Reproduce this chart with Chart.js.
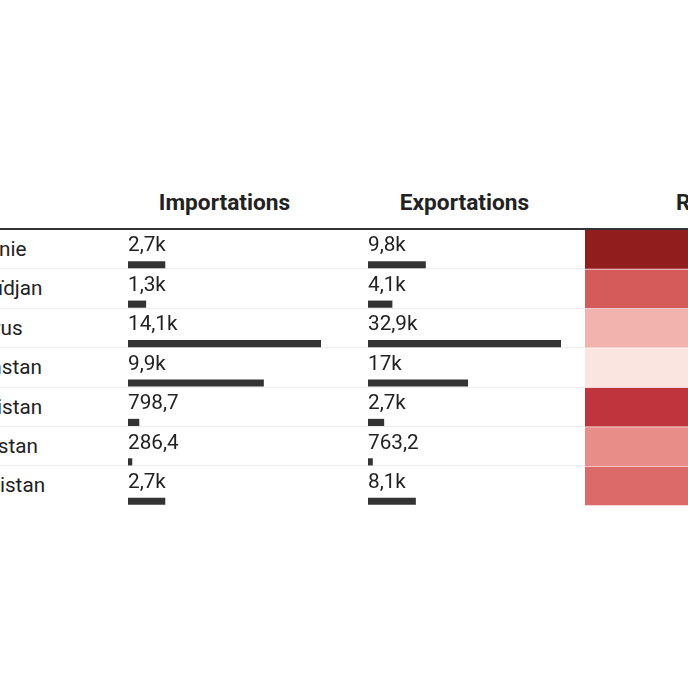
<!DOCTYPE html>
<html lang="fr">
<head>
<meta charset="utf-8">
<title>Importations / Exportations</title>
<script src="https://cdn.jsdelivr.net/npm/chart.js@4.4.1/dist/chart.umd.min.js"></script>
<style>
    html, body {
        margin: 0;
        padding: 0;
        width: 688px;
        height: 688px;
        overflow: hidden;
        background: #fff;
        font-family: Roboto, 'Noto Sans', sans-serif;
        color: #222;
    }
    #tableau {
        position: absolute;
        left: 0;
        top: 0;
        width: 688px;
        height: 688px;
    }
    .entete {
        position: absolute;
        top: 190px;
        height: 26px;
        line-height: 26px;
        font-size: 22.7px;
        font-weight: 700;
        text-align: center;
        white-space: nowrap;
    }
    .pays {
        position: absolute;
        width: 200px;
        font-size: 20.7px;
        text-align: center;
        white-space: nowrap;
    }
    .ligne {
        position: absolute;
        left: 0;
        width: 688px;
        height: 1px;
        background: #ededed;
    }
    #filet {
        position: absolute;
        left: 0;
        top: 228px;
        width: 688px;
        height: 2px;
        background: #333;
        z-index: 2;
    }
    canvas {
        position: absolute;
        z-index: 1;
    }
</style>
</head>
<body>
<div id="tableau">
    <div id="filet"></div>
    <canvas id="chartImport" width="193" height="291" style="left:128px; top:230px;"></canvas>
    <canvas id="chartExport" width="193" height="291" style="left:368px; top:230px;"></canvas>
    <canvas id="chartRatio" width="235" height="276" style="left:585px; top:230px;"></canvas>
</div>
<script>
// donnees
const pays = ['Arménie', 'Azerbaïdjan', 'Bélarus', 'Kazakhstan', 'Kirghizistan', 'Tadjikistan', 'Ouzbékistan'];
const importations = [2700, 1300, 14100, 9900, 798.7, 286.4, 2700];
const exportations = [9800, 4100, 32900, 17000, 2700, 763.2, 8100];
const ratio = [3.63, 3.15, 2.33, 1.72, 3.38, 2.66, 3.0];
const entetes = ['Importations', 'Exportations', 'Ratio'];

const hautLigne = 39.4;
const debutLignes = 230;
const centrePays = -12;

// palette du ratio (position 0..1, couleur), clair -> fonce
const rouges = [
    [0, '#fbe5e1'],
    [0.3, '#f3b7b2'],
    [0.5, '#e88b85'],
    [0.75, '#d55a5a'],
    [0.87, '#c0353d'],
    [1, '#921d1d']
];

function formater(v) {
    if (v >= 1000) {
        return (Math.round(v / 100) / 10).toString().replace('.', ',') + 'k';
    }
    return v.toFixed(1).replace('.', ',');
}

function hexRgb(h) {
    return [parseInt(h.substr(1, 2), 16), parseInt(h.substr(3, 2), 16), parseInt(h.substr(5, 2), 16)];
}

function couleurRatio(v) {
    var min = Math.min(...ratio);
    var max = Math.max(...ratio);
    var t = (v - min) / (max - min);
    var i = 0;
    while (i < rouges.length - 2 && t > rouges[i + 1][0]) i++;
    var f = (t - rouges[i][0]) / (rouges[i + 1][0] - rouges[i][0]);
    f = Math.max(0, Math.min(1, f));
    var a = hexRgb(rouges[i][1]);
    var b = hexRgb(rouges[i + 1][1]);
    var c = a.map((x, k) => Math.round(x + (b[k] - x) * f));
    return 'rgb(' + c.join(',') + ')';
}

// etiquettes au-dessus des barres
const etiquettes = {
    id: 'etiquettes',
    afterDatasetsDraw(chart) {
        var ctx = chart.ctx;
        var meta = chart.getDatasetMeta(0);
        ctx.save();
        ctx.font = '20.7px Roboto';
        ctx.fillStyle = '#222';
        ctx.textAlign = 'left';
        ctx.textBaseline = 'alphabetic';
        meta.data.forEach(function (barre, i) {
            ctx.fillText(formater(chart.data.datasets[0].data[i]), barre.base, barre.y - 13.3);
        });
        ctx.restore();
    }
};

function graphiqueBarres(id, valeurs) {
    var ctx = document.getElementById(id).getContext('2d');
    return new Chart(ctx, {
        type: 'bar',
        data: {
            labels: pays,
            datasets: [{
                data: valeurs,
                backgroundColor: '#333333',
                barThickness: 6.5,
                borderWidth: 0
            }]
        },
        options: {
            indexAxis: 'y',
            responsive: false,
            animation: false,
            layout: { padding: { top: 15, left: 0, right: 0, bottom: 0 } },
            plugins: { legend: { display: false }, tooltip: { enabled: false } },
            scales: {
                x: { display: false, min: 0, max: Math.max(...valeurs) },
                y: { display: false }
            }
        },
        plugins: [etiquettes]
    });
}

document.addEventListener('DOMContentLoaded', function () {
    var tableau = document.getElementById('tableau');

    // en-tetes de colonnes
    var colonnes = [[128, 193], [368, 193], [585, 235]];
    entetes.forEach(function (txt, i) {
        var d = document.createElement('div');
        d.className = 'entete';
        d.style.left = colonnes[i][0] + 'px';
        d.style.width = colonnes[i][1] + 'px';
        d.textContent = txt;
        tableau.appendChild(d);
    });

    // noms des pays (centres) + separateurs
    pays.forEach(function (p, i) {
        var d = document.createElement('div');
        d.className = 'pays';
        d.style.left = (centrePays - 100) + 'px';
        d.style.top = (debutLignes + i * hautLigne) + 'px';
        d.style.lineHeight = hautLigne + 'px';
        d.textContent = p;
        tableau.appendChild(d);
        if (i > 0) {
            var l = document.createElement('div');
            l.className = 'ligne';
            l.style.top = (debutLignes + i * hautLigne - 1) + 'px';
            tableau.appendChild(l);
        }
    });

    graphiqueBarres('chartImport', importations);
    graphiqueBarres('chartExport', exportations);

    var ctx = document.getElementById('chartRatio').getContext('2d');
    new Chart(ctx, {
        type: 'bar',
        data: {
            labels: pays,
            datasets: [{
                data: ratio.map(() => 1),
                backgroundColor: ratio.map(couleurRatio),
                borderColor: 'rgba(255,255,255,0.35)',
                borderWidth: { top: 0, right: 0, bottom: 1, left: 0 },
                borderSkipped: false,
                categoryPercentage: 1,
                barPercentage: 1
            }]
        },
        options: {
            indexAxis: 'y',
            responsive: false,
            animation: false,
            plugins: { legend: { display: false }, tooltip: { enabled: false } },
            scales: {
                x: { display: false, min: 0, max: 1 },
                y: { display: false }
            }
        }
    });
});
</script>
</body>
</html>
